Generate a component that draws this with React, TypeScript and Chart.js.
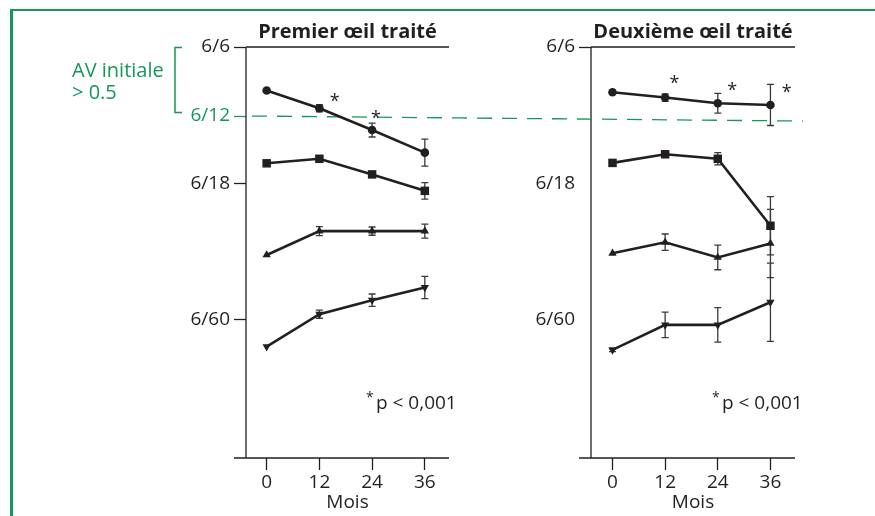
import React, { useEffect, useRef } from "react";
import { Chart, registerables } from "chart.js";

Chart.register(...registerables);

// ---------- data ----------
const months = [0, 12, 24, 36];
const monthTickLabels = ["0", "12", "24", "36"];

// acuity axis (arbitrary chart units, 6/6 at 0, reversed)
const acuityTickValues = [0, 16.8, 33.3, 66.4];
const acuityTickLabels = ["6/6", "6/12", "6/18", "6/60"];
const secondTickValues = [0, 33.3, 66.4];
const secondTickLabels = ["6/6", "6/18", "6/60"];
const referenceAcuity = 16.8; // 6/12

// Premier œil traité
const firstCircle = [10.6, 14.9, 20.2, 25.7];
const firstCircleErr = [0, 0.85, 1.7, 3.3];
const firstSquare = [28.3, 27.2, 31.0, 35.0];
const firstSquareErr = [0, 0.7, 0.7, 2.0];
const firstTriUp = [50.6, 44.8, 44.8, 44.8];
const firstTriUpErr = [0, 1.1, 1.0, 1.7];
const firstTriDown = [72.9, 65.0, 61.6, 58.5];
const firstTriDownErr = [0, 1.0, 1.5, 2.7];
const firstStarMonths = [15.5, 24.9];
const firstStarValues = [11.9, 16.0];

// Deuxième œil traité
const secondCircle = [11.0, 12.3, 13.7, 14.1];
const secondCircleErr = [0, 0.9, 2.4, 5.0];
const secondSquare = [28.2, 26.1, 27.2, 43.5];
const secondSquareErr = [0, 0.7, 1.5, 7.1];
const secondTriUp = [50.2, 47.5, 51.2, 47.8];
const secondTriUpErr = [0, 2.0, 3.0, 8.3];
const secondTriDown = [73.7, 67.6, 67.6, 62.1];
const secondTriDownErr = [0.4, 3.1, 4.2, 9.5];
const secondStarMonths = [14.1, 27.3, 39.7];
const secondStarValues = [7.5, 9.2, 9.8];

// ---------- styles ----------
const INK = "#231f20";
const GREEN = "#16975a";
const FONT = "'Open Sans', 'Noto Sans', sans-serif";
const LABEL_SIZE = 19;

type Series = { values: number[]; errors: number[]; style: string; rotation: number; radius: number };

type PanelCfg = {
  title: string;
  canvasLeft: number;
  width: number;
  padLeft: number;
  padRight: number;
  xMin: number;
  xMax: number;
  series: Series[];
  tickValues: number[];
  tickLabels: string[];
  markedTicks: number[];
  greenTick: number | null;
  starMonths: number[];
  starValues: number[];
  showGreenLegend: boolean;
  dashStartAbs: number;
  dashEndAbs: number;
};

const DASH_X0 = 252;
const DASH_SLOPE = 5 / 551;

function makeDecor(cfg: PanelCfg) {
  return {
    id: "decor",
    beforeDatasetsDraw(chart: any) {
      const { ctx, chartArea: ca, scales } = chart;
      const x = scales.x;
      const y = scales.y;
      ctx.save();
      // axes frame
      ctx.strokeStyle = INK;
      ctx.lineWidth = 1.3;
      ctx.beginPath();
      ctx.moveTo(ca.left, ca.top);
      ctx.lineTo(ca.right, ca.top);
      ctx.moveTo(ca.left, ca.top);
      ctx.lineTo(ca.left, ca.bottom);
      ctx.moveTo(ca.left - 12, ca.bottom);
      ctx.lineTo(ca.right, ca.bottom);
      ctx.stroke();

      // reference dashed line at 6/12
      const yRef = y.getPixelForValue(referenceAcuity);
      const x0 = Math.max(cfg.dashStartAbs, cfg.canvasLeft) - cfg.canvasLeft;
      const x1 = Math.min(cfg.dashEndAbs, cfg.canvasLeft + cfg.width) - cfg.canvasLeft;
      const yAt = (cx: number) => yRef + (cx + cfg.canvasLeft - DASH_X0) * DASH_SLOPE;
      ctx.strokeStyle = GREEN;
      ctx.lineWidth = 1.3;
      ctx.setLineDash([15, 10]);
      ctx.lineDashOffset = (x0 + cfg.canvasLeft - DASH_X0) % 25;
      ctx.beginPath();
      ctx.moveTo(x0, yAt(x0));
      ctx.lineTo(x1, yAt(x1));
      ctx.stroke();
      ctx.setLineDash([]);

      // error bars
      ctx.strokeStyle = "#3a3a3a";
      ctx.lineWidth = 1.3;
      cfg.series.forEach((s) => {
        s.values.forEach((v, i) => {
          const e = s.errors[i];
          if (!e) return;
          const px = x.getPixelForValue(months[i]);
          const pt = y.getPixelForValue(v - e);
          const pb = y.getPixelForValue(v + e);
          ctx.beginPath();
          ctx.moveTo(px, pt);
          ctx.lineTo(px, pb);
          ctx.moveTo(px - 3.5, pt);
          ctx.lineTo(px + 3.5, pt);
          ctx.moveTo(px - 3.5, pb);
          ctx.lineTo(px + 3.5, pb);
          ctx.stroke();
        });
      });
      ctx.restore();
    },
    afterDatasetsDraw(chart: any) {
      const { ctx, chartArea: ca, scales } = chart;
      const x = scales.x;
      const y = scales.y;
      ctx.save();
      ctx.fillStyle = INK;
      // title
      ctx.font = `bold 20px ${FONT}`;
      ctx.textAlign = "center";
      ctx.textBaseline = "alphabetic";
      ctx.fillText(cfg.title, (ca.left + ca.right) / 2, 38);

      // significance stars
      ctx.font = `18px ${FONT}`;
      cfg.starMonths.forEach((m, i) => {
        ctx.fillText("*", x.getPixelForValue(m), y.getPixelForValue(cfg.starValues[i]) + 11);
      });

      // p-value note
      ctx.textAlign = "left";
      ctx.font = `14px ${FONT}`;
      ctx.fillText("*", ca.right - 83, 402);
      ctx.font = `${LABEL_SIZE}px ${FONT}`;
      ctx.fillText("p < 0,001", ca.right - 73, 409);

      if (cfg.showGreenLegend) {
        ctx.fillStyle = GREEN;
        ctx.font = `20px ${FONT}`;
        ctx.fillText("AV initiale", 72, 77);
        ctx.fillText("> 0.5", 72, 99);
        ctx.strokeStyle = GREEN;
        ctx.lineWidth = 1.5;
        ctx.beginPath();
        ctx.moveTo(182, 47.5);
        ctx.lineTo(175, 47.5);
        ctx.lineTo(175, 112.5);
        ctx.lineTo(182, 112.5);
        ctx.stroke();
      }
      ctx.restore();
    },
  };
}

function Panel({ cfg }: { cfg: PanelCfg }) {
  const ref = useRef<HTMLCanvasElement | null>(null);
  useEffect(() => {
    if (!ref.current) return;
    const chart = new Chart(ref.current, {
      type: "line",
      data: {
        datasets: cfg.series.map((s) => ({
          data: months.map((m, i) => ({ x: m, y: s.values[i] })),
          borderColor: INK,
          backgroundColor: INK,
          borderWidth: 2.6,
          pointStyle: s.style as any,
          pointRadius: s.radius,
          pointRotation: s.rotation,
          pointBackgroundColor: INK,
          pointBorderColor: INK,
          pointBorderWidth: 0,
          tension: 0,
          fill: false,
        })),
      },
      options: {
        responsive: false,
        animation: false,
        devicePixelRatio: 1,
        layout: { padding: { left: cfg.padLeft, right: cfg.padRight, top: 47, bottom: 0 } },
        plugins: { legend: { display: false }, tooltip: { enabled: false }, title: { display: false } },
        scales: {
          x: {
            type: "linear",
            min: cfg.xMin,
            max: cfg.xMax,
            afterBuildTicks: (s: any) => {
              s.ticks = months.map((v) => ({ value: v }));
            },
            ticks: {
              autoSkip: false,
              maxRotation: 0,
              padding: 1,
              color: INK,
              font: { family: FONT, size: LABEL_SIZE },
              callback: (v: any) => monthTickLabels[months.indexOf(Number(v))],
            },
            grid: {
              drawOnChartArea: false,
              drawTicks: true,
              tickLength: 12,
              tickWidth: 1.3,
              tickColor: INK,
              color: INK,
            },
            border: { display: false },
            title: {
              display: true,
              text: "Mois",
              color: INK,
              font: { family: FONT, size: LABEL_SIZE },
              padding: { top: 0, bottom: 2 },
            },
            afterFit: (s: any) => {
              s.height = 58;
            },
          },
          y: {
            type: "linear",
            reverse: true,
            min: 0,
            max: 100,
            afterBuildTicks: (s: any) => {
              s.ticks = cfg.tickValues.map((v) => ({ value: v }));
            },
            ticks: {
              autoSkip: false,
              padding: 4,
              font: { family: FONT, size: LABEL_SIZE },
              color: (c: any) => (cfg.greenTick !== null && c.tick && c.tick.value === cfg.greenTick ? GREEN : INK),
              callback: (v: any) => cfg.tickLabels[cfg.tickValues.indexOf(Number(v))],
            },
            grid: {
              drawOnChartArea: false,
              drawTicks: true,
              tickLength: 12,
              tickWidth: 1.3,
              color: INK,
              tickColor: (c: any) => {
                const val = c.tick ? c.tick.value : null;
                if (cfg.greenTick !== null && val === cfg.greenTick) return GREEN;
                return cfg.markedTicks.includes(val) ? INK : "rgba(0,0,0,0)";
              },
            },
            border: { display: false },
            afterFit: (s: any) => {
              s.width = 60;
            },
          },
        },
      },
      plugins: [makeDecor(cfg)],
    });
    return () => chart.destroy();
  }, [cfg]);
  return (
    <canvas
      ref={ref}
      width={cfg.width}
      height={516}
      style={{ position: "absolute", left: cfg.canvasLeft, top: 0, width: cfg.width, height: 516 }}
    />
  );
}

const panel1: PanelCfg = {
  title: "Premier œil traité",
  canvasLeft: 0,
  width: 460,
  padLeft: 186,
  padRight: 11,
  xMin: -4.7,
  xMax: 41.5,
  series: [
    { values: firstCircle, errors: firstCircleErr, style: "circle", rotation: 0, radius: 4.3 },
    { values: firstSquare, errors: firstSquareErr, style: "rect", rotation: 0, radius: 6 },
    { values: firstTriUp, errors: firstTriUpErr, style: "triangle", rotation: 0, radius: 4.8 },
    { values: firstTriDown, errors: firstTriDownErr, style: "triangle", rotation: 180, radius: 4.8 },
  ],
  tickValues: acuityTickValues,
  tickLabels: acuityTickLabels,
  markedTicks: acuityTickValues,
  greenTick: referenceAcuity,
  starMonths: firstStarMonths,
  starValues: firstStarValues,
  showGreenLegend: true,
  dashStartAbs: DASH_X0,
  dashEndAbs: 803,
};

const panel2: PanelCfg = {
  title: "Deuxième œil traité",
  canvasLeft: 460,
  width: 415,
  padLeft: 71,
  padRight: 80,
  xMin: -4.9,
  xMax: 41.6,
  series: [
    { values: secondCircle, errors: secondCircleErr, style: "circle", rotation: 0, radius: 4.3 },
    { values: secondSquare, errors: secondSquareErr, style: "rect", rotation: 0, radius: 6 },
    { values: secondTriUp, errors: secondTriUpErr, style: "triangle", rotation: 0, radius: 4.8 },
    { values: secondTriDown, errors: secondTriDownErr, style: "triangle", rotation: 180, radius: 4.8 },
  ],
  tickValues: secondTickValues,
  tickLabels: secondTickLabels,
  markedTicks: [0],
  greenTick: null,
  starMonths: secondStarMonths,
  starValues: secondStarValues,
  showGreenLegend: false,
  dashStartAbs: DASH_X0,
  dashEndAbs: 803,
};

export default function App() {
  return (
    <div style={{ position: "absolute", left: 0, top: 0, width: 875, height: 516, overflow: "hidden", background: "#fff" }}>
      <div
        style={{
          position: "absolute",
          left: 10,
          top: 9,
          width: 900,
          height: 600,
          borderTop: `2px solid ${GREEN}`,
          borderLeft: `3px solid ${GREEN}`,
        }}
      />
      <Panel cfg={panel1} />
      <Panel cfg={panel2} />
    </div>
  );
}
